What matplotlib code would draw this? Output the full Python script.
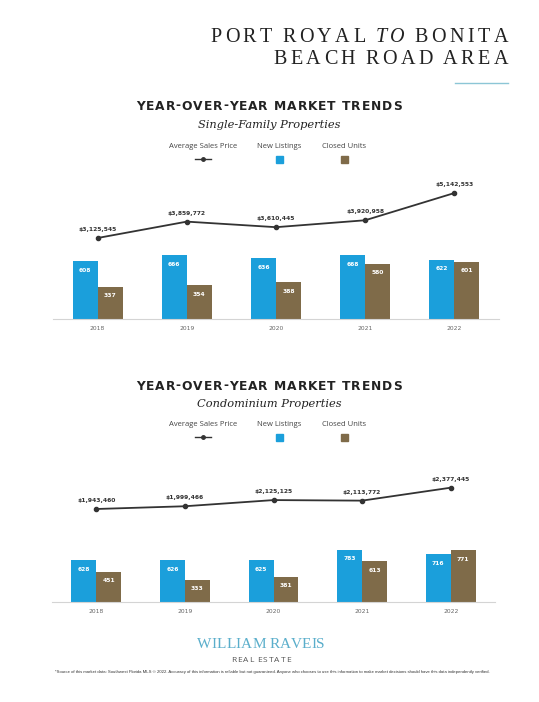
import matplotlib
matplotlib.use("Agg")
import matplotlib.pyplot as plt

# Data
years = ['2018', '2019', '2020', '2021', '2022']

sf_price = [3125545, 3859772, 3610445, 3920958, 5142553]
sf_new = [608, 666, 636, 668, 622]
sf_closed = [337, 354, 388, 580, 601]

condo_price = [1943460, 1999466, 2125125, 2113772, 2377445]
condo_new = [628, 626, 625, 783, 716]
condo_closed = [451, 333, 381, 613, 771]

BLUE = '#1b9fdb'
BROWN = '#7f6b49'
LINE = '#333333'

W, H = 539, 702
fig = plt.figure(figsize=(W / 100, H / 100), dpi=100)
fig.patch.set_facecolor('white')
renderer = fig.canvas.get_renderer()


def fx(px):
    return px / W


def fy(py):
    return 1 - py / H


def spaced_text(x, y, segments, size, spacing, color, family, weight='normal', ha='right',
                space=0.35):
    # matplotlib has no letter spacing, so place glyphs one by one
    pieces = []
    for s, style in segments:
        for ch in s:
            t = fig.text(0, 0, ch if ch != ' ' else 'n', fontsize=size, fontstyle=style,
                         family=family, weight=weight)
            w = t.get_window_extent(renderer).width
            t.remove()
            if ch == ' ':
                w *= space
            pieces.append((ch, style, w))
    total = sum(p[2] for p in pieces) + spacing * (len(pieces) - 1)
    if ha == 'right':
        cur = x - total
    elif ha == 'center':
        cur = x - total / 2
    else:
        cur = x
    for ch, style, w in pieces:
        if ch != ' ':
            fig.text(fx(cur), fy(y), ch, fontsize=size, fontstyle=style, family=family,
                     weight=weight, color=color, ha='left', va='center')
        cur += w + spacing


def legend_row(cx, y_text, y_mark):
    xs = [cx - 66, cx + 10, cx + 75]
    labels = ['Average Sales Price', 'New Listings', 'Closed Units']
    for x, lab in zip(xs, labels):
        fig.text(fx(x), fy(y_text), lab, fontsize=5.5, color='#444444', family='Open Sans',
                 ha='center', va='center')
    fig.lines.append(plt.Line2D([fx(xs[0] - 8), fx(xs[0] + 8)], [fy(y_mark), fy(y_mark)],
                                color=LINE, lw=1, transform=fig.transFigure))
    fig.lines.append(plt.Line2D([fx(xs[0])], [fy(y_mark)], color=LINE, marker='o', ms=2.5,
                                transform=fig.transFigure))
    for x, c in zip(xs[1:], [BLUE, BROWN]):
        fig.patches.append(plt.Rectangle((fx(x - 3.5), fy(y_mark + 3.5)), 7 / W, 7 / H,
                                         color=c, transform=fig.transFigure))


def section(rect, price, new, closed, bar_top, price_lim, title_y, sub, sub_y, leg_y):
    spaced_text(269, title_y, [('YEAR-OVER-YEAR MARKET TRENDS', 'normal')], 8.8, 0.9,
                '#222222', 'DejaVu Sans', weight='bold', ha='center', space=0.5)
    fig.text(fx(269), fy(sub_y), sub, fontsize=8.2, fontstyle='italic', family='DejaVu Serif',
             color='#222222', ha='center', va='center')
    legend_row(269, leg_y, leg_y + 12)

    ax = fig.add_axes(rect)
    x = range(len(years))
    bw = 0.28
    b1 = ax.bar([i - bw / 2 for i in x], new, width=bw, color=BLUE)
    b2 = ax.bar([i + bw / 2 for i in x], closed, width=bw, color=BROWN)
    for bars, vals in ((b1, new), (b2, closed)):
        for rect_, v in zip(bars, vals):
            ax.annotate(str(v), (rect_.get_x() + rect_.get_width() / 2, v), xytext=(0, -6.5),
                        textcoords='offset points', ha='center', va='center', fontsize=4.3,
                        color='white', weight='bold', family='DejaVu Sans')
    ax.set_xlim(-0.5, len(years) - 0.5)
    ax.set_ylim(0, bar_top)
    ax.set_xticks(list(x))
    ax.set_xticklabels(years, fontsize=4.3, color='#666666')
    ax.tick_params(axis='x', length=0, pad=5)
    ax.set_yticks([])
    for s in ['top', 'left', 'right']:
        ax.spines[s].set_visible(False)
    ax.spines['bottom'].set_color('#d4d4d4')
    ax.spines['bottom'].set_linewidth(0.8)

    ax2 = ax.twinx()
    ax2.plot(list(x), price, color=LINE, lw=1.3, marker='o', ms=3)
    for i, p in enumerate(price):
        ax2.annotate(f'${p:,.0f}', (i, p), xytext=(0, 6), textcoords='offset points',
                     ha='center', va='center', fontsize=4.3, color='#333333', weight='bold',
                     family='DejaVu Sans')
    ax2.set_ylim(*price_lim)
    ax2.axis('off')
    ax.patch.set_visible(False)


# Header
spaced_text(508, 38, [('PORT ROYAL ', 'normal'), ('TO', 'italic'), (' BONITA', 'normal')],
            14.5, 3.5, '#222222', 'Liberation Serif', space=0.3)
spaced_text(508, 60, [('BEACH ROAD AREA', 'normal')], 14.5, 3.5, '#222222', 'Liberation Serif',
            space=0.3)
fig.lines.append(plt.Line2D([fx(455), fx(508)], [fy(83), fy(83)], color='#8cc6d6', lw=1,
                            transform=fig.transFigure))

section([fx(53), fy(319), 446 / W, 139 / H], sf_price, sf_new, sf_closed,
        1457, (-506742, 5726442), 106, 'Single-Family Properties', 125, 147)
section([fx(52), fy(602), 443 / W, 132 / H], condo_price, condo_new, condo_closed,
        1973, (49366, 2737757), 386, 'Condominium Properties', 404, 425)

# Footer
spaced_text(261, 644, [('WILLIAM RAVEIS', 'normal')], 11, 0.1, '#5aaecb', 'Liberation Serif',
            ha='center', space=0.4)
spaced_text(261, 661, [('REAL ESTATE', 'normal')], 6, 1.1, '#555555', 'Open Sans', ha='center',
            space=0.2)
fig.text(fx(272), fy(672), '*Source of this market data: Southwest Florida MLS \u00a9 2022. Accuracy of this '
         'information is reliable but not guaranteed. Anyone who chooses to use this information '
         'to make market decisions should have this data independently verified.',
         fontsize=3.1, color='#333333', family='Liberation Sans', ha='center', va='center')

fig.savefig('out.png', dpi=100, facecolor='white')
